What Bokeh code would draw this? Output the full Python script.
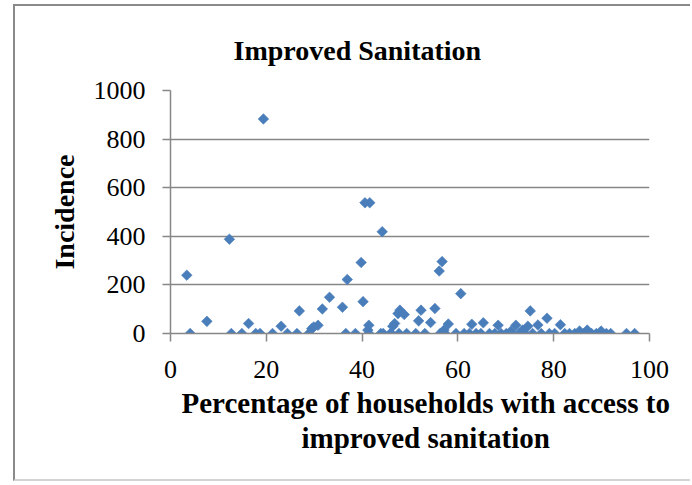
import math

from bokeh.embed import file_html
from bokeh.models import FixedTicker, Range1d, Title
from bokeh.plotting import figure
from bokeh.resources import INLINE

# Percentage of households with access to improved sanitation (x) and incidence (y)
sanitation_pct = [
    3.4, 4.1, 7.6, 12.3, 12.7, 14.9, 16.3, 17.8, 18.7, 19.4,
    21.3, 23.1, 24.4, 26.4, 26.9, 28.9, 29.5, 29.9, 30.8, 31.7,
    33.2, 35.9, 36.6, 36.9, 38.6, 39.8, 40.2, 40.6, 41.6, 41.4,
    41.2, 41.4, 44.2, 43.9, 44.4, 45.9, 46.1, 46.4, 46.8, 47.7,
    47.9, 47.5, 48.8, 49.3, 51.2, 51.8, 52.3, 53.1, 54.3, 55.2,
    56.1, 56.7, 56.3, 57.3, 57.1, 58.0, 59.6, 60.6, 61.3, 62.4,
    62.9, 63.8, 64.8, 65.3, 66.6, 67.7, 68.4, 69.0, 70.1, 71.1,
    72.1, 72.8, 73.5, 74.0, 74.6, 75.1, 75.6, 76.7, 77.4, 78.6,
    79.1, 80.2, 81.4, 82.3, 83.3, 84.4, 85.4, 86.3, 87.0, 87.9,
    88.9, 89.9, 91.0, 91.9, 95.2, 96.9,
]
incidence = [
    240, 0, 50, 388, 0, 0, 41, 0, 0, 883,
    0, 30, 0, 0, 93, 0, 20, 27, 34, 101,
    149, 108, 0, 222, 0, 292, 131, 538, 538, 34,
    14, 0, 419, 0, 0, 0, 0, 30, 41, 0,
    96, 82, 78, 0, 0, 52, 96, 0, 45, 103,
    257, 296, 0, 0, 14, 39, 0, 164, 0, 0,
    38, 0, 0, 44, 0, 0, 34, 0, 0, 10,
    34, 0, 14, 0, 30, 93, 0, 35, 0, 63,
    0, 0, 36, 0, 0, 0, 10, 0, 14, 0,
    0, 10, 0, 0, 0, 0,
]

x_ticks = [0, 20, 40, 60, 80, 100]
y_ticks = [0, 200, 400, 600, 800, 1000]

chart_title = "Improved Sanitation"
x_title_lines = ["Percentage of households with access to", "improved sanitation"]
y_title = "Incidence"

SERIF = "Liberation Serif"
GREY = "#878787"
BLUE = "#4a7ebb"

p = figure(
    width=677, height=477,
    x_range=Range1d(0, 100), y_range=Range1d(0, 1000),
    output_backend="svg", toolbar_location=None,
    min_border_left=155, min_border_right=43,
    min_border_top=84, min_border_bottom=150,
)
# chart-area frame: border on the left, top and bottom edges
p.margin = (4, 0, 0, 13)
p.styles = {
    "border-left": "2px solid #8a8a8a",
    "border-top": "2px solid #8a8a8a",
    "border-bottom": "2px solid #d4d4d4",
}
p.outline_line_color = None
p.background_fill_color = "white"
p.border_fill_color = "white"

# axes
for ax in (p.xaxis, p.yaxis):
    ax.axis_line_color = GREY
    ax.axis_line_width = 1.5
    ax.major_tick_line_color = GREY
    ax.major_tick_line_width = 1.5
    ax.major_tick_in = 0
    ax.major_tick_out = 8
    ax.minor_tick_line_color = None
    ax.major_label_text_font = SERIF
    ax.major_label_text_font_size = "26px"
    ax.major_label_text_color = "black"
p.xaxis.ticker = FixedTicker(ticks=x_ticks)
p.yaxis.ticker = FixedTicker(ticks=y_ticks)
p.xaxis.major_label_standoff = 19
p.yaxis.major_label_standoff = 17

p.yaxis.axis_label = y_title
p.yaxis.axis_label_text_font = SERIF
p.yaxis.axis_label_text_font_style = "bold"
p.yaxis.axis_label_text_font_size = "28px"
p.yaxis.axis_label_text_color = "black"
p.yaxis.axis_label_standoff = 11

p.xgrid.grid_line_color = None
p.ygrid.grid_line_color = GREY
p.ygrid.grid_line_width = 1.5

# data points: diamond markers
p.scatter(
    sanitation_pct, incidence, marker="square", angle=math.pi / 4,
    size=7.5, fill_color=BLUE, line_color=BLUE, line_width=0.6,
)


def bold_title(text, offset, standoff, size="28px"):
    return Title(
        text=text, align="left", offset=offset, standoff=standoff,
        text_font=SERIF, text_font_style="bold", text_font_size=size,
        text_color="black",
    )


# chart title above, two-line x-axis title below
p.title = bold_title(chart_title, 63, 50)
p.add_layout(bold_title(x_title_lines[0], 11, 8, "29px"), "below")
p.add_layout(bold_title(x_title_lines[1], 131, -6, "29px"), "below")

open("out.html", "w").write(file_html(p, INLINE))
